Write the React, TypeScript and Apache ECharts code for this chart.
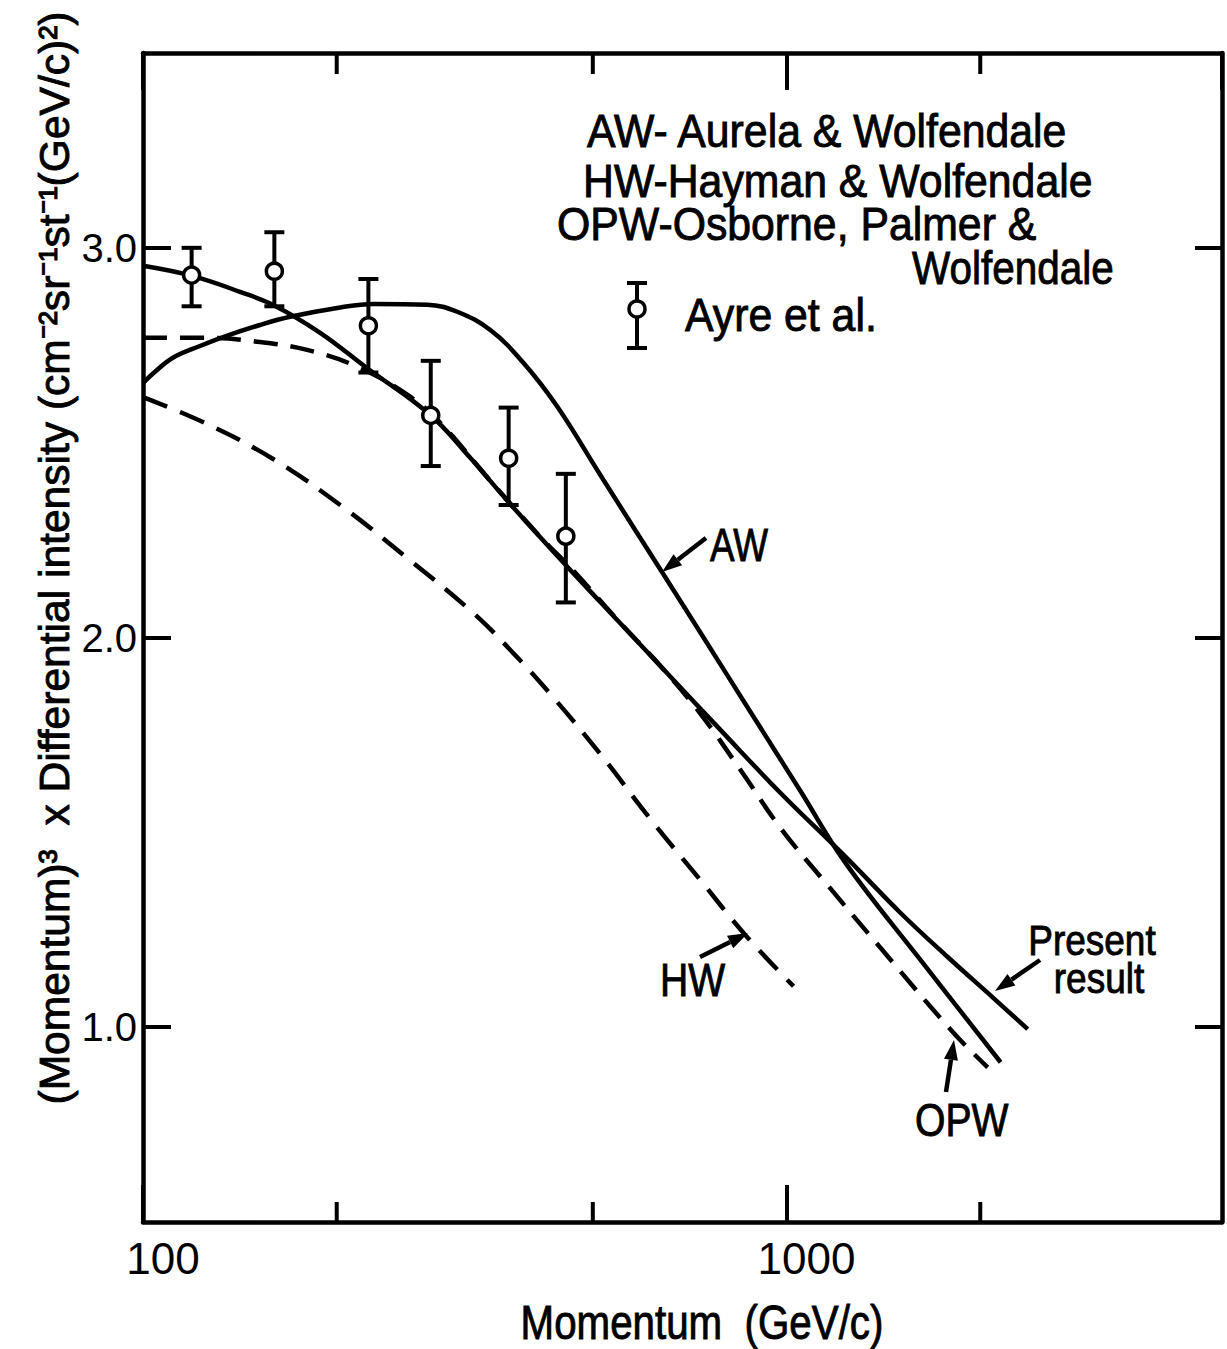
import React, { useEffect, useRef } from 'react';
import * as echarts from 'echarts';

// ---- data (momentum in GeV/c, value = p^3 x differential intensity) ----
const presentP = [100, 119.2, 141.5, 160.4, 188.5, 223.9, 279.5, 322.5, 369.6, 454.9, 513.6, 636.8, 789.3, 978.8, 1235.5, 1504, 1780, 2099, 2370];
const presentV = [2.954, 2.928, 2.887, 2.851, 2.782, 2.689, 2.571, 2.461, 2.348, 2.184, 2.091, 1.927, 1.763, 1.601, 1.437, 1.293, 1.180, 1.074, 0.995];

const awP = [100, 104.4, 111.3, 122.6, 133.2, 152.0, 169.3, 202.5, 228.0, 276.5, 307.8, 346.5, 390.0, 440.5, 513.6, 641.5, 735.1, 879, 1051, 1235.5, 1616, 2151];
const awV = [2.653, 2.682, 2.718, 2.748, 2.771, 2.802, 2.823, 2.847, 2.856, 2.854, 2.836, 2.789, 2.705, 2.592, 2.417, 2.166, 2.012, 1.809, 1.606, 1.421, 1.172, 0.910];

const opwP = [100, 125.7, 150.4, 179.9, 215.2, 257.4, 289.7, 346.5, 414.5, 466.6, 551.9, 636.8, 735.1, 848.2, 978.8, 1141.6, 1400.6, 1818.7, 2054];
const opwV = [2.769, 2.769, 2.759, 2.738, 2.695, 2.623, 2.551, 2.402, 2.258, 2.171, 2.037, 1.927, 1.804, 1.660, 1.511, 1.377, 1.203, 0.985, 0.897];

const hwP = [100, 125.7, 159.3, 202.5, 257.4, 326.0, 372.2, 429.5, 513.6, 614.5, 735.1, 863.4, 1025.4];
const hwV = [2.617, 2.548, 2.458, 2.340, 2.204, 2.063, 1.968, 1.855, 1.701, 1.534, 1.377, 1.236, 1.105];

const ayreP = [119, 160, 224, 280, 370, 454];
const ayreV = [2.93, 2.94, 2.80, 2.57, 2.46, 2.26];
const ayreLo = [2.85, 2.85, 2.68, 2.44, 2.34, 2.09];
const ayreHi = [3.00, 3.04, 2.92, 2.71, 2.59, 2.42];

const xMinorTicks = [200, 500, 2000];
const yTicks = [1, 2, 3];
const X_MIN = 100;
const X_MAX = 4750;
const Y_MIN = 0.5;
const Y_MAX = 3.5;

const legendLines = ['AW- Aurela & Wolfendale', 'HW-Hayman & Wolfendale', 'OPW-Osborne, Palmer &', 'Wolfendale'];
const yTitle = '(Momentum)\u00B3  x Differential intensity (cm\u207B\u00B2sr\u207B\u00B9st\u207B\u00B9(GeV/c)\u00B2)';
const xTitle = 'Momentum  (GeV/c)';

const zip = (a: number[], b: number[]) => a.map((v, i) => [v, b[i]]);

const FONT = '"Liberation Sans", Arial, sans-serif';

function txt(text: string, x: number, y: number, size = 46, sx = 0.93, align = 'left', extra: any = {}) {
  return {
    type: 'text', x, y, scaleX: sx, ...extra,
    style: {
      text, fontSize: size, fontFamily: FONT, fill: '#000', stroke: '#000', lineWidth: 0.9,
      align, textAlign: align, verticalAlign: 'middle', textVerticalAlign: 'middle',
    },
  };
}

function arrow(x1: number, y1: number, x2: number, y2: number) {
  const dx = x2 - x1, dy = y2 - y1, L = Math.hypot(dx, dy);
  const ux = dx / L, uy = dy / L;
  const hl = 20, hw = 7;
  const bx = x2 - ux * hl, by = y2 - uy * hl;
  return [
    { type: 'line', shape: { x1, y1, x2: bx, y2: by }, style: { stroke: '#000', lineWidth: 4.5 } },
    { type: 'polygon', shape: { points: [[x2, y2], [bx - uy * hw, by + ux * hw], [bx + uy * hw, by - ux * hw]] }, style: { fill: '#000' } },
  ];
}

function errMarker(x: number, yt: number, yc: number, yb: number) {
  const st = { stroke: '#000', lineWidth: 4 };
  return [
    { type: 'line', shape: { x1: x, y1: yt, x2: x, y2: yb }, style: st },
    { type: 'line', shape: { x1: x - 10, y1: yt, x2: x + 10, y2: yt }, style: st },
    { type: 'line', shape: { x1: x - 10, y1: yb, x2: x + 10, y2: yb }, style: st },
    { type: 'circle', shape: { cx: x, cy: yc, r: 8 }, style: { fill: '#fff', stroke: '#000', lineWidth: 3.5 } },
  ];
}

export default function App() {
  const ref = useRef<HTMLDivElement>(null);
  useEffect(() => {
    if (!ref.current) return;
    const chart = echarts.init(ref.current, undefined, { renderer: 'svg' });
    const axisLine = { show: true, lineStyle: { color: '#000', width: 4.5 } };
    const xLabelFmt = (v: number) => {
      const l = Math.log10(v);
      return Math.abs(l - Math.round(l)) < 1e-6 && v < 4000 ? String(Math.round(v)) : '';
    };
    const yLabelFmt = (v: number) => (Math.abs(v - Math.round(v)) < 1e-6 ? v.toFixed(1) : '');
    const dashedLine = (name: string, data: number[][], dash: number[]) => ({
      type: 'line', name, data, showSymbol: false, smooth: 0.4, silent: true,
      lineStyle: { color: '#000', width: 4.5, type: dash }, z: 3,
    });
    const solidLine = (name: string, data: number[][]) => ({
      type: 'line', name, data, showSymbol: false, smooth: 0.4, silent: true,
      lineStyle: { color: '#000', width: 4.5 }, z: 3,
    });

    const option: any = {
      animation: false,
      backgroundColor: '#fff',
      grid: { left: 143, right: 5, top: 53, bottom: 127, containLabel: false },
      xAxis: [
        {
          type: 'log', logBase: 10, min: X_MIN, max: X_MAX, position: 'bottom',
          axisLine, splitLine: { show: false },
          axisTick: { show: true, inside: true, length: 37, lineStyle: { color: '#000', width: 4 } },
          axisLabel: { show: true, formatter: xLabelFmt, fontSize: 44, fontFamily: FONT, color: '#000', margin: 14, padding: [0, 0, 0, 40], showMaxLabel: false },
        },
        {
          type: 'log', logBase: 10, min: X_MIN, max: X_MAX, position: 'top',
          axisLine, splitLine: { show: false },
          axisTick: { show: true, inside: true, length: 37, lineStyle: { color: '#000', width: 4 } },
          axisLabel: { show: false },
        },
      ],
      yAxis: [
        {
          type: 'value', min: Y_MIN, max: Y_MAX, position: 'left',
          axisLine, splitLine: { show: false },
          axisTick: { show: true, inside: true, length: 28, customValues: yTicks, lineStyle: { color: '#000', width: 4 } },
          axisLabel: { show: true, customValues: yTicks, formatter: yLabelFmt, fontSize: 40, fontFamily: FONT, color: '#000', margin: 6 },
        },
        {
          type: 'value', min: Y_MIN, max: Y_MAX, position: 'right',
          axisLine, splitLine: { show: false },
          axisTick: { show: true, inside: true, length: 27, customValues: yTicks, lineStyle: { color: '#000', width: 4 } },
          axisLabel: { show: false },
        },
      ],
      series: [
        solidLine('Present result', zip(presentP, presentV)),
        solidLine('AW', zip(awP, awV)),
        dashedLine('OPW', zip(opwP, opwV), [24, 13]),
        dashedLine('HW', zip(hwP, hwV), [26, 14]),
        {
          type: 'custom', name: 'Ayre et al.', z: 10, silent: true,
          data: ayreP.map((p, i) => [p, ayreV[i], ayreLo[i], ayreHi[i]]),
          encode: { x: 0, y: 1 },
          renderItem: (params: any, api: any) => {
            const p = api.value(0), v = api.value(1), lo = api.value(2), hi = api.value(3);
            const c = api.coord([p, v]);
            const t = api.coord([p, hi]);
            const b = api.coord([p, lo]);
            const st = { stroke: '#000', lineWidth: 4 };
            return {
              type: 'group',
              children: [
                { type: 'line', shape: { x1: c[0], y1: t[1], x2: c[0], y2: b[1] }, style: st },
                { type: 'line', shape: { x1: c[0] - 10, y1: t[1], x2: c[0] + 10, y2: t[1] }, style: st },
                { type: 'line', shape: { x1: c[0] - 10, y1: b[1], x2: c[0] + 10, y2: b[1] }, style: st },
                { type: 'circle', shape: { cx: c[0], cy: c[1], r: 8 }, style: { fill: '#fff', stroke: '#000', lineWidth: 3.5 } },
              ],
            };
          },
        },
        {
          type: 'custom', name: 'minor ticks', z: 5, silent: true,
          data: xMinorTicks.map((v) => [v, Y_MIN]),
          encode: { x: 0, y: 1 },
          renderItem: (params: any, api: any) => {
            const v = api.value(0);
            const b = api.coord([v, Y_MIN]);
            const t = api.coord([v, Y_MAX]);
            const st = { stroke: '#000', lineWidth: 4 };
            return {
              type: 'group',
              children: [
                { type: 'line', shape: { x1: b[0], y1: b[1], x2: b[0], y2: b[1] - 20 }, style: st },
                { type: 'line', shape: { x1: t[0], y1: t[1], x2: t[0], y2: t[1] + 21 }, style: st },
              ],
            };
          },
        },
      ],
      graphic: [
        txt(legendLines[0], 587, 131),
        txt(legendLines[1], 583, 181),
        txt(legendLines[2], 557, 224),
        txt(legendLines[3], 912, 268, 46, 0.88),
        ...errMarker(637, 283, 309, 348),
        txt('Ayre et al.', 685, 315),
        txt('AW', 710, 545, 46, 0.8),
        ...arrow(706, 538, 662, 572),
        txt('HW', 660, 980, 46, 0.85),
        ...arrow(700, 957, 748, 933),
        txt('OPW', 915, 1120, 46, 0.85),
        ...arrow(946, 1092, 954, 1040),
        txt('Present', 1092, 940, 42, 0.88, 'center'),
        txt('result', 1099, 978, 42, 0.88, 'center'),
        ...arrow(1040, 960, 995, 991),
        txt(xTitle, 702, 1322, 48, 0.84, 'center'),
        txt(yTitle, 54, 558, 43, 0.99, 'center', { rotation: Math.PI / 2 }),
      ],
    };
    chart.setOption(option);
    return () => chart.dispose();
  }, []);
  return <div ref={ref} style={{ position: 'absolute', left: 0, top: 0, width: 1227, height: 1349 }} />;
}
